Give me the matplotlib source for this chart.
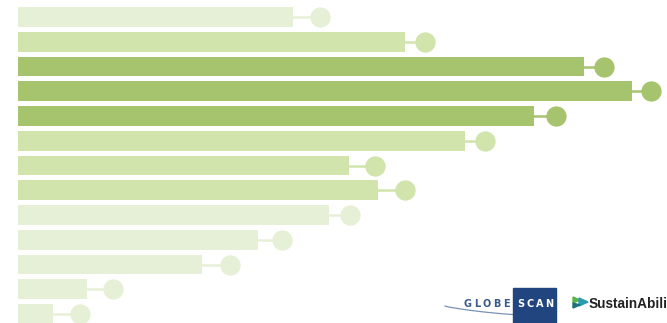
import numpy as np
import matplotlib.pyplot as plt
from matplotlib.patches import Rectangle, Polygon

# bar value and dot value per row, top to bottom
bar_vals = [42.3, 59.5, 87.0, 94.5, 79.4, 68.8, 50.9, 55.4, 47.8, 36.9, 28.3, 10.6, 5.4]
dot_vals = [46.5, 62.6, 90.2, 97.4, 82.8, 71.8, 54.9, 59.5, 51.1, 40.6, 32.6, 14.6, 9.5]
shade = ["light", "mid", "dark", "dark", "dark", "mid", "mid", "mid",
         "light", "light", "light", "light", "light"]

colors = {"light": "#e6f0d7", "mid": "#d0e4ac", "dark": "#a6c46e"}

fig = plt.figure(figsize=(6.67, 3.23), dpi=100)
ax = fig.add_axes([0, 0, 1, 1])

y = np.arange(len(bar_vals))
cols = [colors[s] for s in shade]

ax.barh(y, bar_vals, height=0.79, color=cols, zorder=2)
for yi, b, d, c in zip(y, bar_vals, dot_vals, cols):
    ax.plot([b, d], [yi, yi], color=c, lw=1.8, zorder=1)
    ax.plot(d, yi, "o", color=c, ms=14.6, mec="none", zorder=3)

ax.set_xlim(-18 / 6.5, 649 / 6.5)
ax.set_ylim((323 - 17) / 24.75, -17 / 24.75)
ax.axis("off")

# logos in the bottom right corner (figure pixel coords)
fx = lambda px: px / 667
fy = lambda py: 1 - py / 323

fig.patches.append(Rectangle((fx(513), fy(330)), fx(556) - fx(513), fy(288) - fy(330),
                             transform=fig.transFigure, color="#20457f", zorder=5))
for i, ch in enumerate("GLOBE"):
    fig.text(fx(468 + i * 9.5), fy(304), ch, color="#3a5a8c", fontsize=7,
             fontweight="bold", va="center", ha="center", zorder=6)
for i, ch in enumerate("SCAN"):
    fig.text(fx(521 + i * 9.5), fy(304), ch, color="white", fontsize=7,
             fontweight="bold", va="center", ha="center", zorder=6)
sx = np.linspace(445, 556, 60)
sy = 306 + 10 * np.sin((sx - 445) / 111 * np.pi / 2) ** 0.8
fig.lines.append(plt.Line2D(fx(sx), fy(sy), transform=fig.transFigure,
                            color="#7a92b8", lw=0.9, zorder=4))

fig.patches.append(Polygon([(fx(573), fy(297)), (fx(580), fy(300)), (fx(573), fy(303))],
                           transform=fig.transFigure, color="#5bb246", zorder=5))
fig.patches.append(Polygon([(fx(579), fy(298)), (fx(588), fy(302)), (fx(579), fy(306))],
                           transform=fig.transFigure, color="#2a9bb0", zorder=5))
fig.patches.append(Polygon([(fx(573), fy(303)), (fx(580), fy(305)), (fx(573), fy(308))],
                           transform=fig.transFigure, color="#1d6f7d", zorder=5))
fig.text(fx(589), fy(303.5), "SustainAbili", color="#222222", fontsize=9.8,
         fontweight="bold", va="center", ha="left", family="Liberation Sans", zorder=6)

fig.savefig("out.png", dpi=100)
